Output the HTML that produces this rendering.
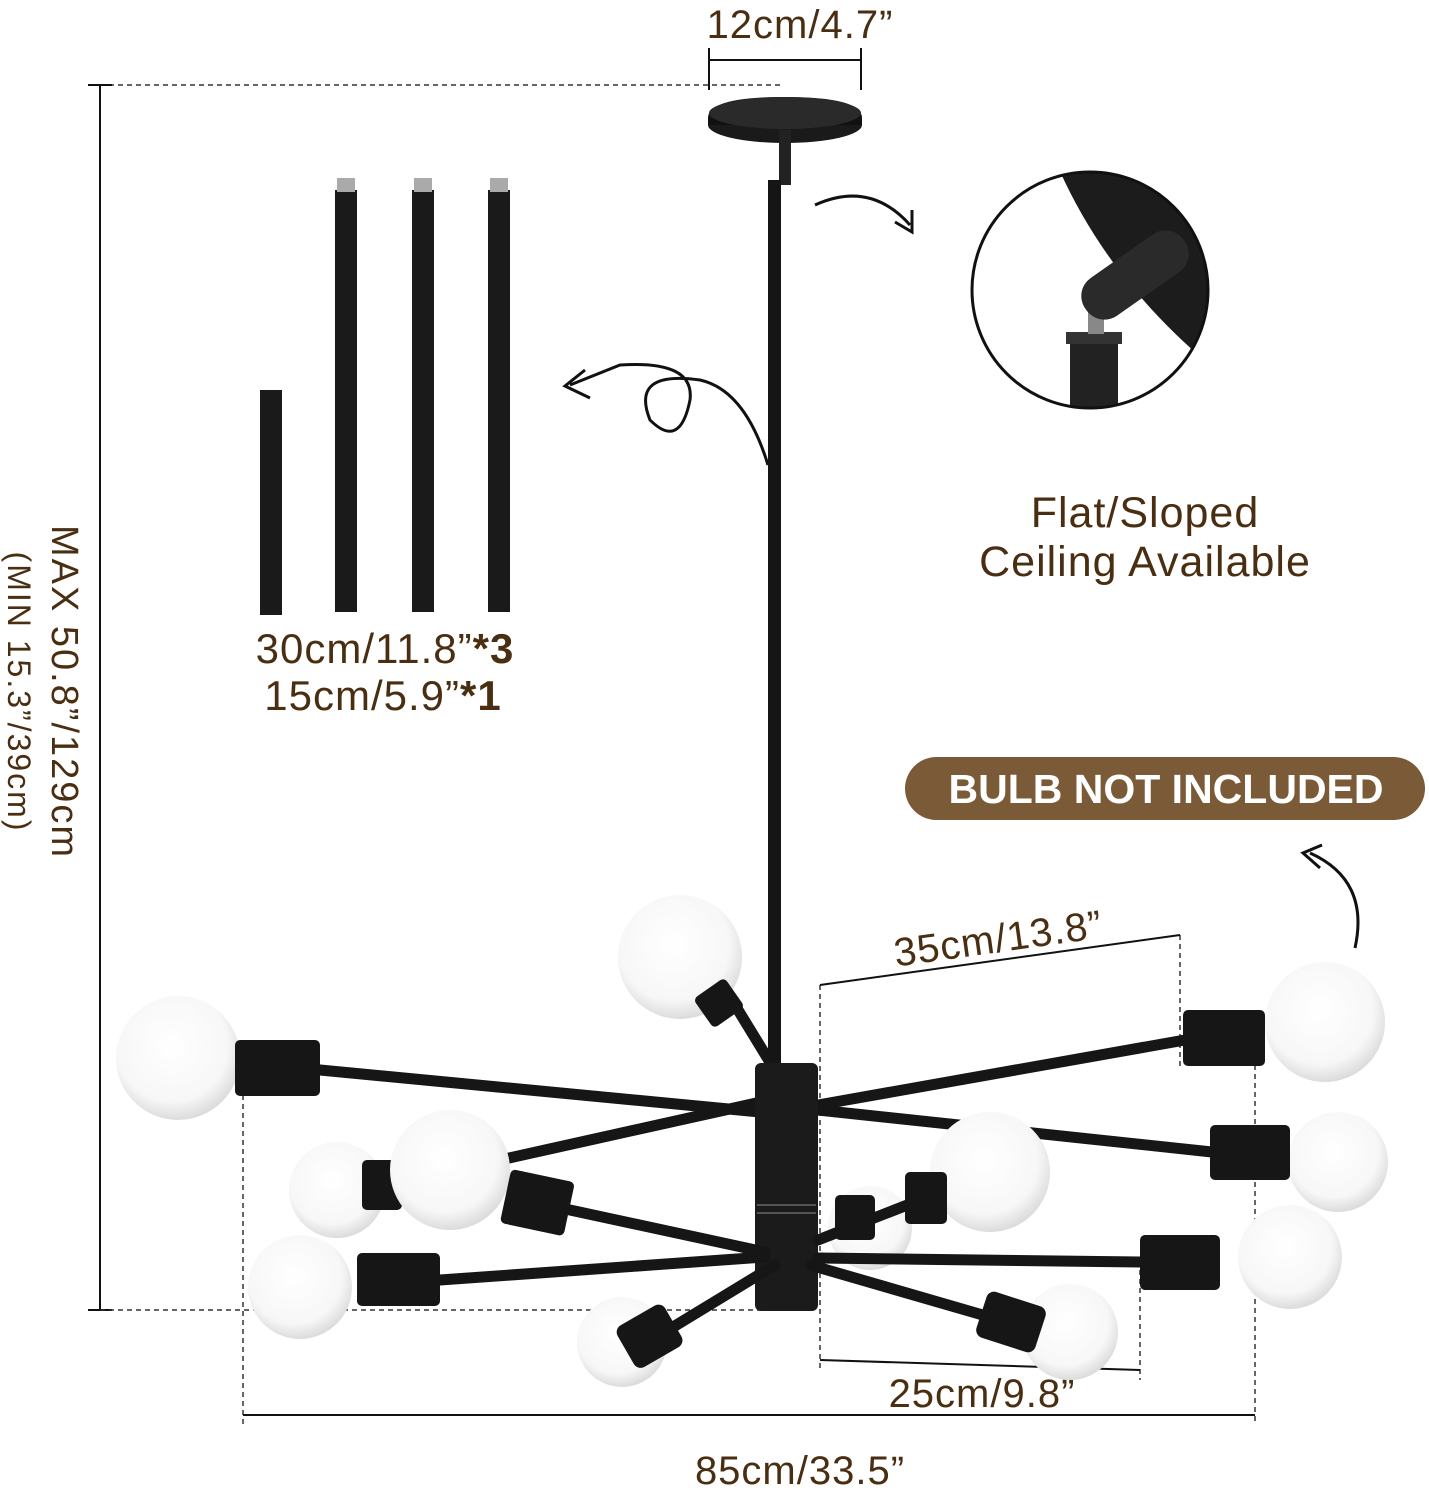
<!DOCTYPE html>
<html><head><meta charset="utf-8"><style>
html,body{margin:0;padding:0;background:#fff}
svg{display:block}
text{font-family:"Liberation Sans",sans-serif;fill:#4a2e12}
</style></head><body>
<svg width="1429" height="1500" viewBox="0 0 1429 1500" xmlns="http://www.w3.org/2000/svg">
<defs>
<radialGradient id="bulb" cx="0.45" cy="0.4" r="0.6"><stop offset="0" stop-color="#fff"/><stop offset="0.75" stop-color="#f7f7f7"/><stop offset="1" stop-color="#dcdcdc"/></radialGradient>
<clipPath id="cc"><circle cx="1090" cy="290" r="118"/></clipPath>
</defs>
<!-- top dim -->
<text x="800" y="38" font-size="40" text-anchor="middle" letter-spacing="1">12cm/4.7”</text>
<line x1="709" y1="60" x2="861" y2="60" stroke="#111" stroke-width="2"/>
<line x1="709" y1="48" x2="709" y2="90" stroke="#111" stroke-width="2"/>
<line x1="861" y1="48" x2="861" y2="90" stroke="#111" stroke-width="2"/>
<!-- height dim -->
<line x1="100" y1="85" x2="780" y2="85" stroke="#333" stroke-width="1.5" stroke-dasharray="5,4"/>
<line x1="100" y1="85" x2="100" y2="1310" stroke="#111" stroke-width="2"/>
<line x1="88" y1="85" x2="112" y2="85" stroke="#111" stroke-width="2"/>
<line x1="88" y1="1310" x2="112" y2="1310" stroke="#111" stroke-width="2"/>
<line x1="100" y1="1310" x2="760" y2="1310" stroke="#333" stroke-width="1.5" stroke-dasharray="5,4"/>
<text transform="translate(52,692) rotate(90)" font-size="38" text-anchor="middle" letter-spacing="2">MAX  50.8”/129cm</text>
<text transform="translate(8,692) rotate(90)" font-size="32" text-anchor="middle" letter-spacing="2">(MIN  15.3”/39cm)</text>
<!-- canopy -->
<ellipse cx="785" cy="125" rx="77" ry="18" fill="#1a1a1a"/>
<path d="M708 118 Q708 97 785 97 Q862 97 862 118 L862 125 L708 125Z" fill="#111"/>
<ellipse cx="785" cy="113" rx="76" ry="16" fill="#2a2a2a"/>
<rect x="779" y="130" width="12" height="55" fill="#222"/>
<rect x="768" y="180" width="13" height="885" fill="#151515"/>
<!-- rods -->
<rect x="260" y="390" width="22" height="225" fill="#1a1a1a"/>
<rect x="335" y="190" width="22" height="422" fill="#1a1a1a"/><rect x="337" y="178" width="18" height="14" fill="#aaa"/>
<rect x="412" y="190" width="22" height="422" fill="#1a1a1a"/><rect x="414" y="178" width="18" height="14" fill="#aaa"/>
<rect x="488" y="190" width="22" height="422" fill="#1a1a1a"/><rect x="490" y="178" width="18" height="14" fill="#aaa"/>
<text x="385" y="663" font-size="42" text-anchor="middle" letter-spacing="1">30cm/11.8”<tspan font-weight="bold">*3</tspan></text>
<text x="383" y="710" font-size="42" text-anchor="middle" letter-spacing="1">15cm/5.9”<tspan font-weight="bold">*1</tspan></text>
<!-- arrows -->
<path d="M768 465 Q745 390 700 380 Q630 370 650 420 Q680 450 690 400 Q695 360 620 365 L570 385" fill="none" stroke="#111" stroke-width="3"/>
<path d="M585 370 L565 386 L590 398" fill="none" stroke="#111" stroke-width="3"/>
<path d="M815 205 Q870 180 910 225" fill="none" stroke="#111" stroke-width="3"/>
<path d="M895 222 L912 232 L912 210" fill="none" stroke="#111" stroke-width="3"/>
<path d="M1355 948 Q1370 880 1310 853" fill="none" stroke="#111" stroke-width="3"/>
<path d="M1322 845 L1303 853 L1320 868" fill="none" stroke="#111" stroke-width="3"/>
<!-- circle detail -->
<circle cx="1090" cy="290" r="118" fill="#fff"/>
<g clip-path="url(#cc)">
<path d="M1055 160 Q1110 290 1235 385 L1235 160Z" fill="#1c1c1c"/>
<rect x="1070" y="335" width="48" height="120" fill="#222"/>
<rect x="1066" y="332" width="56" height="12" fill="#333"/>
<rect x="1088" y="312" width="16" height="22" fill="#888"/>
<rect x="1075" y="252" width="120" height="46" rx="22" transform="rotate(-35 1135 275)" fill="#2a2a2a"/>
</g>
<circle cx="1090" cy="290" r="118" fill="none" stroke="#111" stroke-width="3"/>
<text x="1145" y="527" font-size="43" text-anchor="middle" letter-spacing="1">Flat/Sloped</text>
<text x="1145" y="576" font-size="43" text-anchor="middle" letter-spacing="1">Ceiling Available</text>
<!-- badge -->
<rect x="905" y="757" width="520" height="63" rx="31.5" fill="#7b5a38"/>
<text x="1166" y="803" font-size="41" font-weight="bold" text-anchor="middle" style="fill:#fff">BULB NOT INCLUDED</text>
<!-- dims -->
<g stroke="#333" stroke-width="1.5" stroke-dasharray="5,4" fill="none">
<line x1="820" y1="985" x2="820" y2="1370"/>
<line x1="1180" y1="935" x2="1180" y2="1070"/>
<line x1="1140" y1="1270" x2="1140" y2="1380"/>
<line x1="243" y1="1095" x2="243" y2="1425"/>
<line x1="1255" y1="1065" x2="1255" y2="1425"/>
</g>
<line x1="820" y1="985" x2="1180" y2="935" stroke="#111" stroke-width="2"/>
<text transform="translate(1000,952) rotate(-8)" font-size="40" text-anchor="middle" letter-spacing="1">35cm/13.8”</text>
<line x1="820" y1="1360" x2="1140" y2="1370" stroke="#111" stroke-width="2"/>
<text x="982" y="1407" font-size="40" text-anchor="middle" letter-spacing="1">25cm/9.8”</text>
<line x1="243" y1="1415" x2="1255" y2="1415" stroke="#111" stroke-width="2"/>
<text x="800" y="1484" font-size="40" text-anchor="middle" letter-spacing="1">85cm/33.5”</text>
<!-- chandelier back items -->
<g stroke="#161616" stroke-linecap="round">
<line x1="320" y1="1070" x2="760" y2="1112" stroke-width="11"/>
<line x1="818" y1="1105" x2="1185" y2="1040" stroke-width="11"/>
<line x1="818" y1="1110" x2="1212" y2="1152" stroke-width="11"/>
<line x1="500" y1="1160" x2="770" y2="1100" stroke-width="11"/>
<line x1="735" y1="1005" x2="790" y2="1095" stroke-width="11"/>
</g>
<circle cx="178" cy="1058" r="62" fill="url(#bulb)"/>
<rect x="235" y="1040" width="85" height="56" rx="5" fill="#161616"/>
<circle cx="680" cy="957" r="62" fill="url(#bulb)"/>
<rect x="700" y="985" width="38" height="36" rx="5" transform="rotate(-35 719 1003)" fill="#161616"/>
<circle cx="1325" cy="1022" r="60" fill="url(#bulb)"/>
<rect x="1183" y="1010" width="82" height="56" rx="5" fill="#161616"/>
<circle cx="1338" cy="1162" r="50" fill="url(#bulb)"/>
<rect x="1210" y="1125" width="80" height="55" rx="5" fill="#161616"/>
<circle cx="337" cy="1190" r="48" fill="url(#bulb)"/>
<rect x="362" y="1160" width="40" height="50" rx="5" fill="#161616"/>
<circle cx="870" cy="1228" r="42" fill="url(#bulb)"/>
<rect x="835" y="1195" width="40" height="45" rx="5" fill="#161616"/>
<!-- body -->
<rect x="755" y="1063" width="63" height="248" rx="6" fill="#1b1b1b"/>
<line x1="757" y1="1205" x2="816" y2="1205" stroke="#555" stroke-width="2"/>
<line x1="757" y1="1213" x2="816" y2="1213" stroke="#555" stroke-width="2"/>
<!-- front arms -->
<g stroke="#161616" stroke-linecap="round">
<line x1="570" y1="1210" x2="765" y2="1252" stroke-width="11"/>
<line x1="440" y1="1280" x2="765" y2="1257" stroke-width="11"/>
<line x1="818" y1="1258" x2="1140" y2="1262" stroke-width="11"/>
<line x1="818" y1="1240" x2="920" y2="1200" stroke-width="11"/>
<line x1="660" y1="1335" x2="775" y2="1265" stroke-width="11"/>
<line x1="810" y1="1265" x2="1000" y2="1320" stroke-width="11"/>
</g>
<circle cx="450" cy="1170" r="60" fill="url(#bulb)"/>
<rect x="505" y="1175" width="65" height="55" rx="5" transform="rotate(12 537 1202)" fill="#161616"/>
<circle cx="990" cy="1172" r="60" fill="url(#bulb)"/>
<rect x="905" y="1172" width="42" height="52" rx="5" fill="#161616"/>
<circle cx="300" cy="1287" r="52" fill="url(#bulb)"/>
<rect x="357" y="1253" width="83" height="53" rx="5" fill="#161616"/>
<circle cx="1290" cy="1257" r="52" fill="url(#bulb)"/>
<rect x="1140" y="1235" width="80" height="55" rx="5" fill="#161616"/>
<circle cx="622" cy="1342" r="45" fill="url(#bulb)"/>
<rect x="622" y="1312" width="55" height="48" rx="8" transform="rotate(-30 650 1336)" fill="#161616"/>
<circle cx="1070" cy="1332" r="48" fill="url(#bulb)"/>
<rect x="980" y="1298" width="62" height="48" rx="8" transform="rotate(18 1011 1322)" fill="#161616"/>
</svg>
</body></html>
